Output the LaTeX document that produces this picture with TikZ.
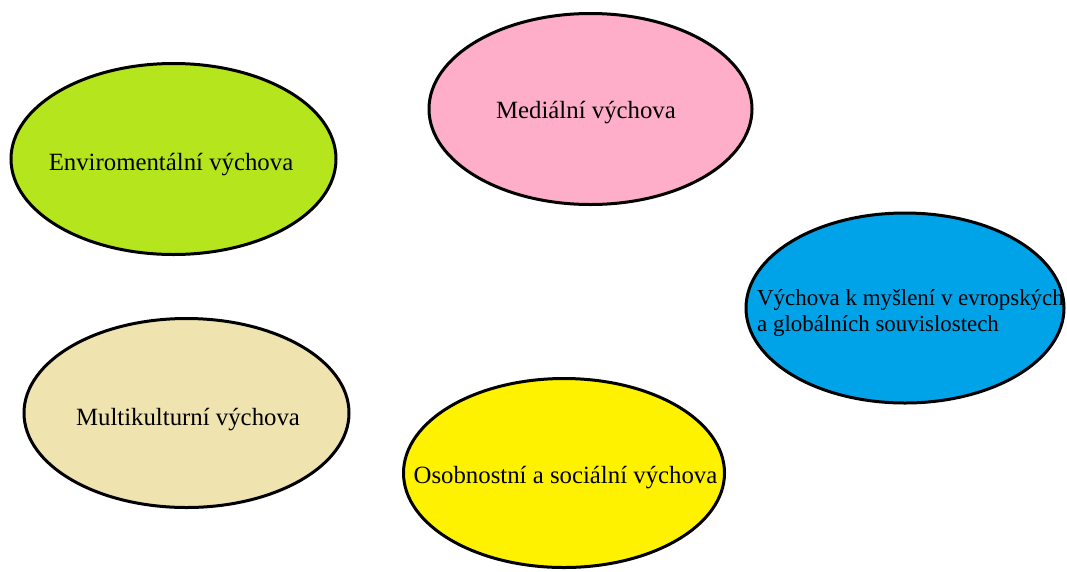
\documentclass[tikz,border=0pt]{standalone}
\usepackage{fontspec}
\setmainfont{Liberation Serif}
\usetikzlibrary{shapes.geometric}
\definecolor{cgreen}{HTML}{B5E61D}
\definecolor{cpink}{HTML}{FFAEC9}
\definecolor{cblue}{HTML}{00A2E8}
\definecolor{ctan}{HTML}{EFE4B0}
\definecolor{cyellow}{HTML}{FFF200}
\tikzset{
  oval/.style={ellipse, draw=black, line width=3pt, inner sep=0pt},
  lbl/.style={inner sep=0pt, font=\fontsize{24.8}{26}\selectfont, text=black}
}
\begin{document}
\begin{tikzpicture}[x=1pt,y=-1pt]
\useasboundingbox (0,0) rectangle (1067,571);
\node[oval, fill=cgreen, minimum width=325pt, minimum height=191pt] (env) at (173.5,159) {};
\node[oval, fill=cpink, minimum width=323pt, minimum height=191pt] (med) at (590.5,109) {};
\node[oval, fill=cblue, minimum width=318pt, minimum height=190pt] (evr) at (905,308) {};
\node[oval, fill=ctan, minimum width=325pt, minimum height=189pt] (mul) at (186.5,413) {};
\node[oval, fill=cyellow, minimum width=321pt, minimum height=189pt] (oso) at (564,473) {};

\node[lbl, anchor=base] (tenv) at (171,170) {Enviromentální výchova};
\node[lbl, anchor=base] (tmed) at (586,118) {Mediální výchova};
\node[lbl, anchor=base west, align=left, font=\fontsize{22.9}{26}\selectfont] (tevr) at (757,331) {Výchova k myšlení v evropských\\a globálních souvislostech};
\node[lbl, anchor=base] (tmul) at (188,425) {Multikulturní výchova};
\node[lbl, anchor=base] (toso) at (565.5,483) {Osobnostní a sociální výchova};
\end{tikzpicture}
\end{document}
